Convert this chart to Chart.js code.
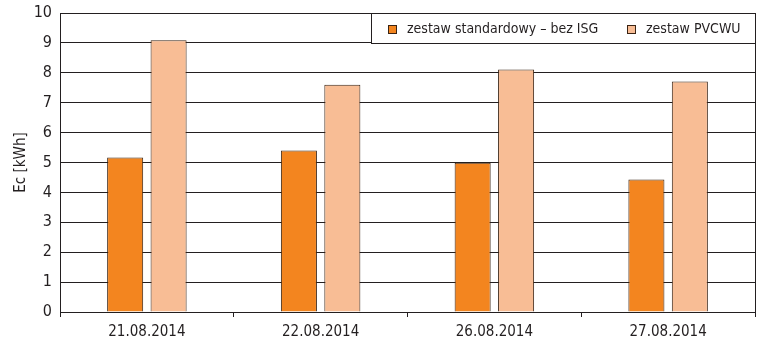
<!DOCTYPE html>
<html>
<head>
<meta charset="utf-8">
<script src="https://cdn.jsdelivr.net/npm/chart.js@4.4.1/dist/chart.umd.min.js"></script>
<style>
  html, body { margin: 0; padding: 0; background: #ffffff; }
  #wrap { width: 759px; height: 345px; position: relative; }
</style>
</head>
<body>
<div id="wrap"><canvas id="c" width="759" height="345"></canvas></div>
<script>
const categories = ['21.08.2014', '22.08.2014', '26.08.2014', '27.08.2014'];
const seriesNames = ['zestaw standardowy – bez ISG', 'zestaw PVCWU'];
const standardValues = [5.17, 5.40, 4.99, 4.43];
const pvcwuValues = [9.09, 7.60, 8.11, 7.71];
const yTicks = [0, 1, 2, 3, 4, 5, 6, 7, 8, 9, 10];
const yTitle = 'Ec [kWh]';

const FONT = '"Liberation Sans Narrow", "DejaVu Sans Condensed", "Arial Narrow", sans-serif';
const INK = '#231f20';
const colors = ['#F3851F', '#F8BD95'];
const edge = '#3a2414';

const legendPlugin = {
  id: 'boxLegend',
  afterDraw(chart) {
    const ctx = chart.ctx;
    const ca = chart.chartArea;
    const yS = chart.scales.y;
    const top = Math.round(yS.getPixelForValue(10));
    const bottom = Math.round(yS.getPixelForValue(9));
    const left = 371, right = Math.round(ca.right);
    ctx.save();
    ctx.fillStyle = '#ffffff';
    ctx.fillRect(left, top, right - left, bottom - top);
    ctx.strokeStyle = INK;
    ctx.lineWidth = 1;
    ctx.strokeRect(left + 0.5, top + 0.5, right - left, bottom - top);
    ctx.font = '14px ' + FONT;
    ctx.textBaseline = 'middle';
    const midY = (top + bottom) / 2 + 1;
    let x = 388;
    chart.data.datasets.forEach((ds, i) => {
      ctx.fillStyle = ds.backgroundColor;
      ctx.fillRect(x, midY - 4, 9, 9);
      ctx.strokeStyle = edge;
      ctx.strokeRect(x + 0.5, midY - 3.5, 8, 8);
      ctx.fillStyle = INK;
      ctx.fillText(ds.label, x + 19, midY);
      x = 627;
    });
    ctx.restore();
  }
};

new Chart(document.getElementById('c'), {
  type: 'bar',
  data: {
    labels: categories,
    datasets: [
      { label: seriesNames[0], data: standardValues, backgroundColor: colors[0], borderColor: edge, borderWidth: 1 },
      { label: seriesNames[1], data: pvcwuValues, backgroundColor: colors[1], borderColor: edge, borderWidth: 1 }
    ]
  },
  options: {
    responsive: false,
    animation: false,
    devicePixelRatio: 1,
    layout: { padding: { top: 13, right: 4, left: 0, bottom: 0 } },
    categoryPercentage: 0.5,
    barPercentage: 0.83,
    plugins: { legend: { display: false }, tooltip: { enabled: false } },
    scales: {
      x: {
        offset: true,
        border: { display: true, color: INK, width: 1 },
        grid: { display: true, drawOnChartArea: false, drawTicks: true, tickLength: 5, offset: true, color: INK },
        ticks: { color: INK, font: { family: FONT, size: 15 }, padding: 6, maxRotation: 0 },
        afterFit(scale) { scale.height = 33; }
      },
      y: {
        min: 0, max: 10,
        afterBuildTicks(scale) { scale.ticks = yTicks.map(v => ({ value: v })); },
        border: { display: true, color: INK, width: 1 },
        grid: { color: INK, lineWidth: 1, drawTicks: false },
        ticks: { color: INK, font: { family: FONT, size: 16, lineHeight: 0.5 }, padding: 8 },
        title: { display: true, text: yTitle, color: INK, font: { family: FONT, size: 15 }, padding: { top: 12, bottom: 4 } },
        afterFit(scale) { scale.width = 60; }
      },
      y2: {
        position: 'right', min: 0, max: 10,
        grid: { display: false },
        ticks: { display: false },
        border: { display: true, color: INK, width: 1 },
        afterFit(scale) { scale.width = 0; }
      }
    }
  },
  plugins: [legendPlugin]
});
</script>
</body>
</html>
